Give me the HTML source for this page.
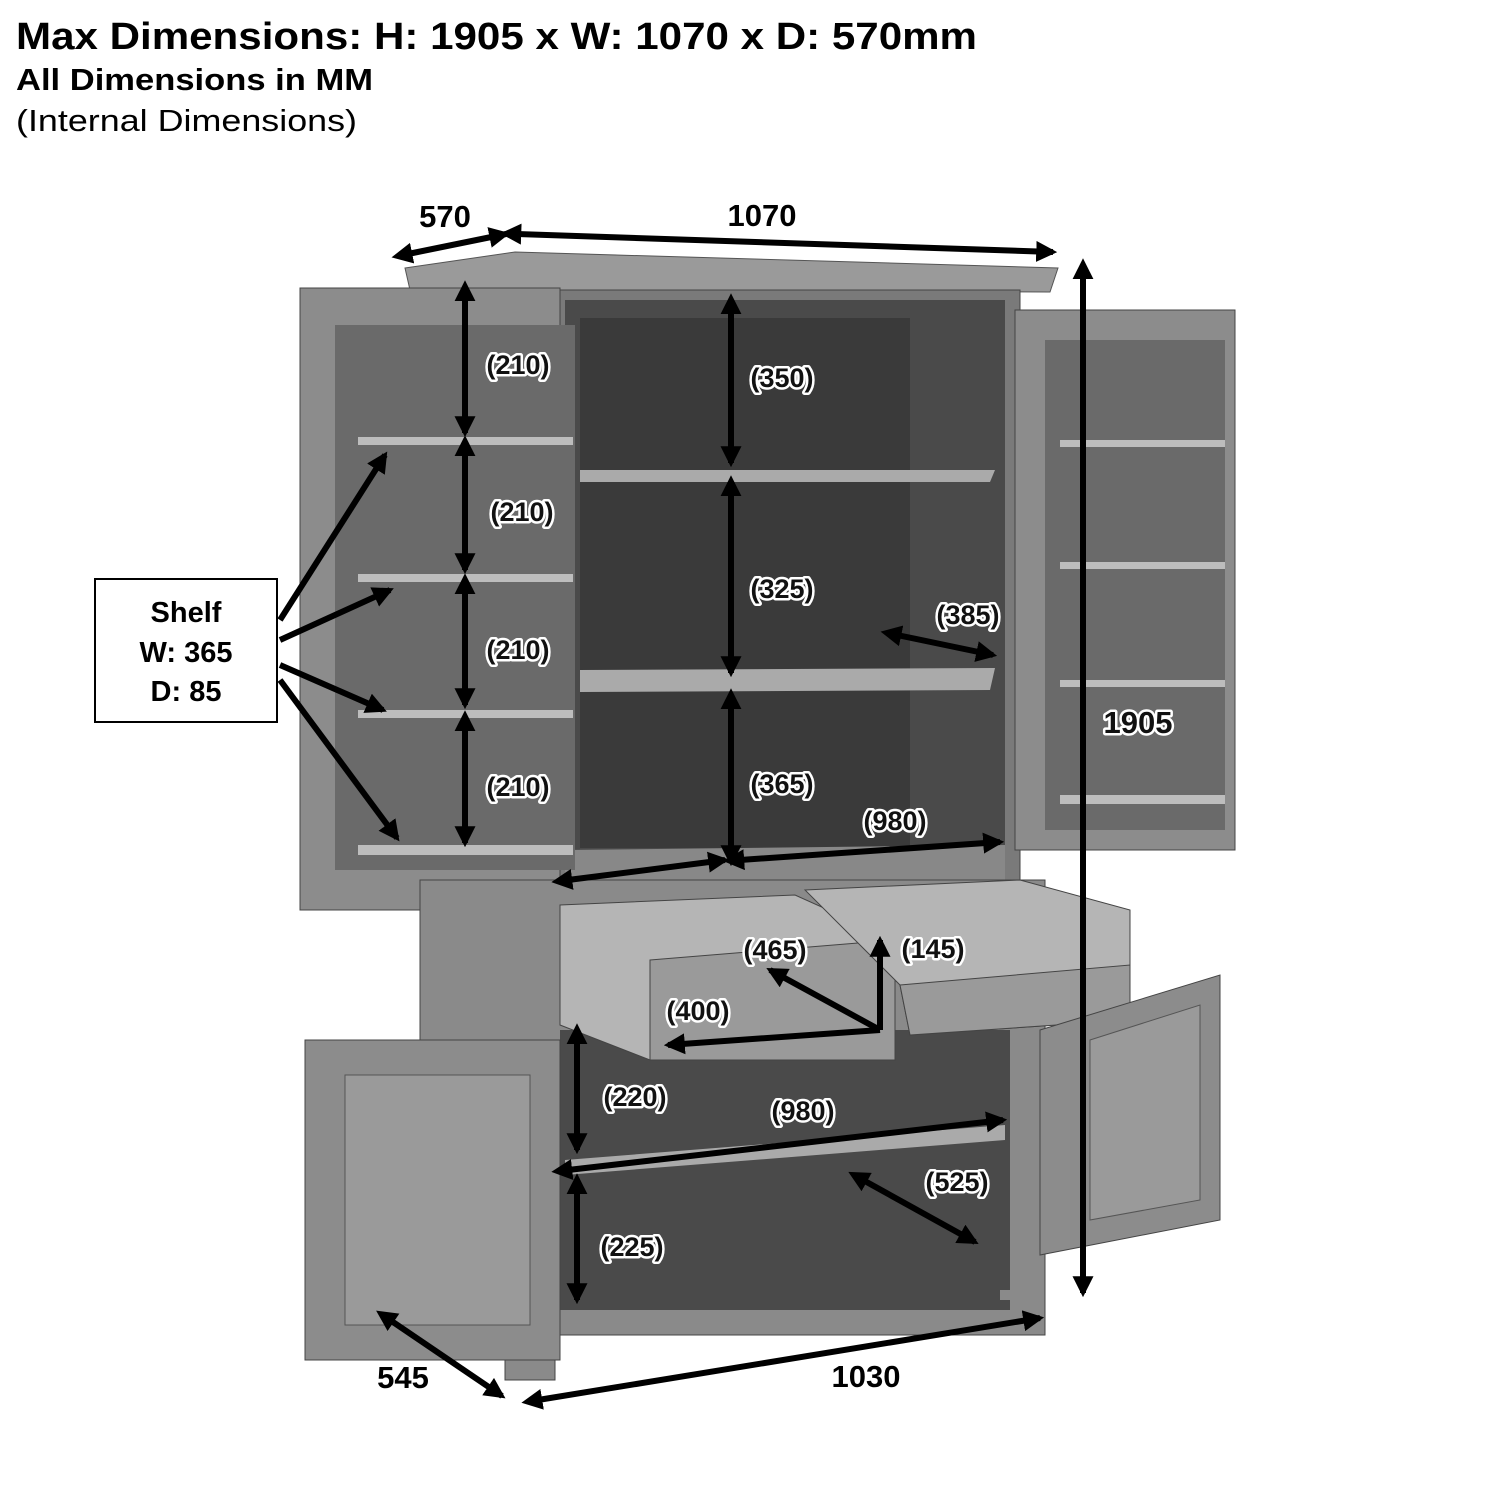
<!DOCTYPE html>
<html><head><meta charset="utf-8"><style>
body{margin:0;background:#fff;width:1500px;height:1500px;overflow:hidden}
svg{position:absolute;left:0;top:0}
.t{font-family:"Liberation Sans",sans-serif;font-weight:bold}
.l{font-family:"Liberation Sans",sans-serif;font-weight:bold;font-size:27px;fill:#111;stroke:#fff;stroke-width:5px;paint-order:stroke;stroke-linejoin:round}
.a{stroke:#000;stroke-width:6;fill:none;marker-end:url(#h);marker-start:url(#hs)}
.s{stroke:#000;stroke-width:6;fill:none;marker-end:url(#h)}
</style></head><body>
<svg width="1500" height="1500" viewBox="0 0 1500 1500">
<defs>
<marker id="h" viewBox="0 0 10 10" refX="8" refY="5" markerWidth="3.5" markerHeight="3.5" orient="auto"><path d="M0,0L10,5L0,10z" fill="#000"/></marker>
<marker id="hs" viewBox="0 0 10 10" refX="2" refY="5" markerWidth="3.5" markerHeight="3.5" orient="auto-start-reverse"><path d="M0,0L10,5L0,10z" fill="#000"/></marker>
</defs>
<text x="16" y="49" class="t" font-size="38" textLength="961" lengthAdjust="spacingAndGlyphs">Max Dimensions: H: 1905 x W: 1070 x D: 570mm</text>
<text x="16" y="90" class="t" font-size="31" textLength="357" lengthAdjust="spacingAndGlyphs">All Dimensions in MM</text>
<text x="16" y="131" font-family="Liberation Sans" font-size="31" textLength="341" lengthAdjust="spacingAndGlyphs">(Internal Dimensions)</text>

<polygon points="405,268 515,252 1058,268 1050,292 410,290" fill="#9a9a9a" stroke="#555"/>
<rect x="530" y="290" width="490" height="590" fill="#7a7a7a" stroke="#444"/>
<rect x="565" y="300" width="440" height="565" fill="#4a4a4a"/>
<rect x="580" y="318" width="330" height="530" fill="#3a3a3a"/>
<polygon points="580,470 995,470 990,482 580,482" fill="#aaa"/>
<polygon points="580,670 995,668 990,690 580,692" fill="#aaa"/>
<polygon points="565,850 1005,845 1005,880 565,880" fill="#888"/>
<rect x="300" y="288" width="260" height="622" fill="#8c8c8c" stroke="#444"/>
<rect x="335" y="325" width="240" height="545" fill="#6a6a6a"/>
<g fill="#bdbdbd"><rect x="358" y="437" width="215" height="8"/><rect x="358" y="574" width="215" height="8"/><rect x="358" y="710" width="215" height="8"/><rect x="358" y="845" width="215" height="10"/></g>
<rect x="1015" y="310" width="220" height="540" fill="#8c8c8c" stroke="#444"/>
<rect x="1045" y="340" width="180" height="490" fill="#6a6a6a"/>
<g fill="#bdbdbd"><rect x="1060" y="440" width="165" height="7"/><rect x="1060" y="562" width="165" height="7"/><rect x="1060" y="680" width="165" height="7"/><rect x="1060" y="795" width="165" height="9"/></g>
<rect x="420" y="880" width="625" height="455" fill="#8a8a8a" stroke="#444"/>
<rect x="560" y="1030" width="450" height="280" fill="#4a4a4a"/>
<polygon points="565,1160 1005,1125 1005,1140 565,1175" fill="#aaa"/>
<rect x="505" y="1325" width="50" height="55" fill="#8a8a8a" stroke="#444"/>
<rect x="1000" y="1290" width="42" height="10" fill="#8a8a8a"/>
<polygon points="560,905 795,895 895,940 895,1060 650,1060 560,1025" fill="#b5b5b5" stroke="#444"/>
<polygon points="650,960 895,940 895,1060 650,1060" fill="#9a9a9a" stroke="#444"/>
<polygon points="805,890 1020,880 1130,910 1130,1020 910,1035 900,985" fill="#b5b5b5" stroke="#444"/>
<polygon points="900,985 1130,965 1130,1020 910,1035" fill="#9a9a9a" stroke="#444"/>
<rect x="305" y="1040" width="255" height="320" fill="#8c8c8c" stroke="#444"/>
<rect x="345" y="1075" width="185" height="250" fill="#9a9a9a" stroke="#555"/>
<polygon points="1040,1030 1220,975 1220,1220 1040,1255" fill="#8c8c8c" stroke="#444"/>
<polygon points="1090,1040 1200,1005 1200,1200 1090,1220" fill="#9a9a9a" stroke="#555"/>

<rect x="95" y="579" width="182" height="143" fill="#fff" stroke="#000" stroke-width="2"/>
<text x="186" y="622" class="t" font-size="29" text-anchor="middle">Shelf</text>
<text x="186" y="662" class="t" font-size="29" text-anchor="middle">W: 365</text>
<text x="186" y="701" class="t" font-size="29" text-anchor="middle">D: 85</text>
<g class="s">
<line x1="280" y1="620" x2="385" y2="455"/>
<line x1="280" y1="640" x2="390" y2="590"/>
<line x1="280" y1="665" x2="383" y2="710"/>
<line x1="280" y1="680" x2="397" y2="838"/>
</g>
<g class="a">
<line x1="408" y1="254" x2="506" y2="234"/>
<line x1="517" y1="234" x2="1053" y2="252"/>
<line x1="1083" y1="275" x2="1083" y2="1293"/>
<line x1="390" y1="1320" x2="502" y2="1396"/>
<line x1="538" y1="1400" x2="1040" y2="1318"/>
<line x1="465" y1="297" x2="465" y2="433"/>
<line x1="465" y1="452" x2="465" y2="570"/>
<line x1="465" y1="590" x2="465" y2="705"/>
<line x1="465" y1="727" x2="465" y2="843"/>
<line x1="731" y1="310" x2="731" y2="463"/>
<line x1="731" y1="492" x2="731" y2="673"/>
<line x1="731" y1="705" x2="731" y2="862"/>
<line x1="897" y1="635" x2="993" y2="655"/>
<line x1="740" y1="860" x2="1000" y2="842"/>
<line x1="568" y1="880" x2="725" y2="860"/>
<line x1="577" y1="1040" x2="577" y2="1150"/>
<line x1="577" y1="1190" x2="577" y2="1300"/>
<line x1="568" y1="1170" x2="1003" y2="1120"/>
<line x1="863" y1="1180" x2="975" y2="1242"/>
</g>
<g class="s">
<polyline points="880,1030 880,940" />
<line x1="880" y1="1030" x2="770" y2="970"/>
<line x1="880" y1="1030" x2="668" y2="1045"/>
</g>
<g class="t" font-size="31" text-anchor="middle">
<text x="445" y="227">570</text><text x="762" y="226">1070</text>
<text x="1138" y="733" class="l" style="font-size:31px">1905</text>
<text x="403" y="1388">545</text><text x="866" y="1387">1030</text>
</g>
<g class="l" text-anchor="middle">
<text x="518" y="374">(210)</text><text x="522" y="521">(210)</text><text x="518" y="659">(210)</text><text x="518" y="796">(210)</text>
<text x="782" y="387">(350)</text><text x="782" y="598">(325)</text><text x="782" y="793">(365)</text>
<text x="968" y="624">(385)</text><text x="895" y="830">(980)</text>
<text x="775" y="959">(465)</text><text x="933" y="958">(145)</text><text x="698" y="1020">(400)</text>
<text x="635" y="1106">(220)</text><text x="803" y="1120">(980)</text><text x="957" y="1191">(525)</text><text x="632" y="1256">(225)</text>
</g>
</svg>
</body></html>
